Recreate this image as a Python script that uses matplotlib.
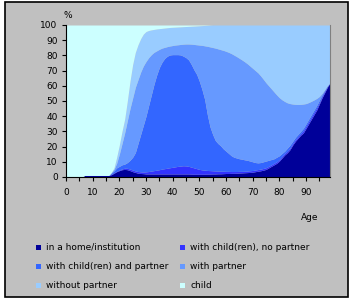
import numpy as np
import matplotlib
matplotlib.use("Agg")
import matplotlib.pyplot as plt
from matplotlib.patches import Rectangle

ages = list(range(0, 100))

labels = ["in a home/institution", "with child(ren), no partner",
          "with child(ren) and partner", "with partner",
          "without partner", "child"]
colors = ["#000099", "#3333FF", "#3366FF", "#6699FF", "#99CCFF", "#CCFFFF"]

# cumulative percentage (top edge of each category), ages 0..99
cum_home = ([0]*7 + [1]*10 +
            [1.5, 2.5, 3.5, 4.2, 4.8, 5, 4.8, 4.2, 3.5, 3, 2.5, 2.3, 2.2] +
            [2, 2, 2, 2, 2, 2, 2, 2, 2, 2] +
            [2, 2, 2, 2, 2, 2, 2, 1.9, 1.8, 1.8] +
            [1.8, 1.8, 1.8, 1.9, 1.9, 2, 2, 2.1, 2.1, 2.2] +
            [2.3, 2.3, 2.4, 2.4, 2.5, 2.6, 2.7, 2.8, 2.9, 3] +
            [3.2, 3.5, 3.8, 4.1, 4.5, 5, 6, 7, 8, 9] +
            [10.5, 12.5, 14.5, 16, 18, 21, 23.5, 25.5, 27.5, 29] +
            [32, 35, 38, 41, 44, 48, 52, 55.5, 59, 62])

cum_child_no_partner = ([0]*7 + [1]*10 +
            [1.7, 2.8, 3.8, 4.6, 5.3, 5.8, 5.7, 5.2, 4.6, 4, 3.6, 3.4, 3.3] +
            [3.4, 3.6, 3.9, 4.2, 4.5, 4.8, 5.2, 5.5, 5.8, 6.1] +
            [6.4, 6.7, 7, 7.2, 7.4, 7.3, 7, 6.5, 6, 5.5] +
            [5, 4.7, 4.5, 4.3, 4.2, 4.1, 4, 3.9, 3.8, 3.8] +
            [3.7, 3.7, 3.6, 3.6, 3.6, 3.7, 3.7, 3.8, 3.9, 4.1] +
            [4.3, 4.6, 4.9, 5.2, 5.6, 6.1, 7, 8, 9, 10] +
            [11.5, 13.5, 15.5, 17, 19, 22, 24.5, 26.5, 28.5, 30.5] +
            [33.5, 36.5, 39.5, 42.5, 45.5, 49, 53, 56.3, 59.5, 62])

cum_child_partner = ([0]*7 + [1]*10 +
            [2.5, 4, 6, 7, 8, 8.5, 9.5, 11, 13, 16, 22, 28, 34] +
            [40, 47, 54, 61, 67, 72, 75.5, 78, 79.5, 80.3] +
            [80.5, 80.5, 80.5, 80.3, 79.5, 78.5, 77, 74, 70.5, 67.5] +
            [63, 57.5, 51, 41, 33, 28, 24, 22, 20.5, 18.5] +
            [17, 15.5, 14, 13, 12.5, 12, 11.7, 11.3, 11, 10.5] +
            [10, 9.5, 9.3, 9.5, 10, 10.5, 11, 11.5, 12, 13] +
            [14, 15.5, 17, 19, 21, 23.5, 26, 28, 30, 32] +
            [35, 38, 41, 44, 47, 50.5, 54, 57, 60, 62])

cum_partner = ([0]*7 + [1]*10 +
            [3, 5, 9, 15, 22, 29, 37, 45, 52, 59, 64, 69, 73] +
            [76, 78.5, 80.5, 82, 83, 84, 84.8, 85.3, 85.8, 86.2] +
            [86.5, 86.8, 87, 87.2, 87.4, 87.5, 87.5, 87.4, 87.2, 87] +
            [86.8, 86.6, 86.3, 86, 85.6, 85.2, 84.8, 84.3, 83.8, 83.3] +
            [82.7, 82, 81.2, 80.2, 79.2, 78.1, 77, 75.8, 74.5, 73] +
            [71.5, 70, 68.5, 66.5, 64.3, 62, 60, 58, 56, 54] +
            [52.2, 50.8, 49.7, 48.8, 48.3, 48, 47.8, 47.7, 47.8, 48] +
            [48.3, 49, 49.8, 50.7, 51.7, 53, 55, 57.5, 60, 62])

cum_without_partner = ([0]*7 + [1]*10 +
            [3, 6, 13, 21, 30, 38, 50, 63, 74, 82, 87, 91, 94] +
            [95.7, 96.4, 96.8, 97.1, 97.4, 97.6, 97.8, 98, 98.2, 98.4] +
            [98.5, 98.6, 98.7, 98.8, 98.9, 99, 99.1, 99.2, 99.3, 99.4] +
            [99.5, 99.6, 99.7, 99.8, 99.9] + [100]*5 +
            [100]*40)

cum_child = [100]*100

W, H = 354, 303
fig = plt.figure(figsize=(W/100, H/100), dpi=100)
fig.patch.set_facecolor("white")
fig.patches.append(Rectangle((5/W, 6/H), 343/W, 295/H, transform=fig.transFigure,
                             facecolor="#C0C0C0", edgecolor="black", lw=1.2, zorder=-5))

ax = fig.add_axes([66/W, (H-177)/H, 264/W, 152/H])
ax.set_zorder(2)
ax.set_facecolor("#C0C0C0")

bounds = [cum_home, cum_child_no_partner, cum_child_partner, cum_partner,
          cum_without_partner, cum_child]
lower = [0]*len(ages)
for b, c in zip(bounds, colors):
    ax.fill_between(ages, lower, b, color=c, lw=0)
    lower = b

ax.set_xlim(0, 99)
ax.set_ylim(0, 100)
ax.set_yticks(range(0, 101, 10))
ax.set_xticks(range(0, 100, 5))
ax.set_xticklabels([str(v) if v % 10 == 0 else "" for v in range(0, 100, 5)])
ax.tick_params(axis="both", labelsize=6.5, length=3, width=0.8, color="black",
               direction="out", pad=3)
ax.tick_params(axis="x", pad=5)
ax.spines["top"].set_visible(False)
ax.spines["right"].set_color("#808080")
ax.spines["right"].set_linewidth(0.8)
ax.spines["left"].set_linewidth(0.8)
ax.spines["bottom"].set_linewidth(0.8)

fig.text(63/W, 1 - 15/H, "%", fontsize=6.5, va="center", ha="left")
fig.text(318/W, 1 - 218/H, "Age", fontsize=6.5, va="center", ha="right")

rows = [247, 266.5, 285.5]
cols = [36, 180]
for i, (lab, c) in enumerate(zip(labels, colors)):
    r, k = divmod(i, 2)
    x0 = cols[k]
    y0 = rows[r]
    fig.patches.append(Rectangle((x0/W, 1 - (y0 + 2.5)/H), 5/W, 5/H,
                                 transform=fig.transFigure, facecolor=c,
                                 edgecolor="none", zorder=2))
    fig.text((x0 + 10)/W, 1 - y0/H, lab, fontsize=6.5, va="center", ha="left")

fig.savefig("out.png", dpi=100, facecolor=fig.get_facecolor())
